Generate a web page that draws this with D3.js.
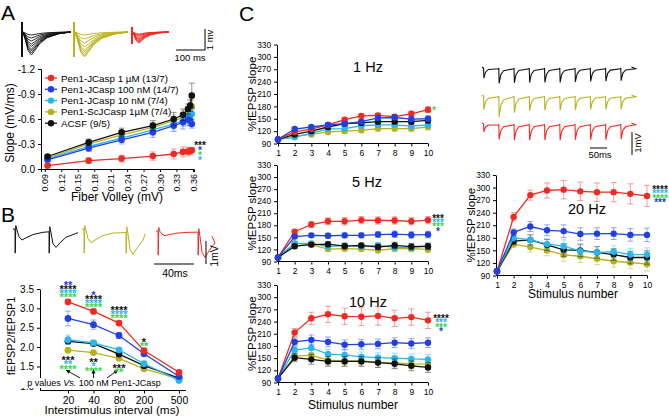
<!DOCTYPE html>
<html><head><meta charset="utf-8">
<script src="https://cdn.jsdelivr.net/npm/d3@7"></script>
<style>
body{margin:0;background:#fff;}
svg{font-family:"Liberation Sans", Arial, sans-serif;display:block;}
</style></head><body>
<svg id="fig" width="669" height="417"></svg>
<script>
// ================= DATA =================
const groupNames = ["Pen1-JCasp 1 µM (13/7)", "Pen1-JCasp 100 nM (14/7)", "Pen1-JCasp 10 nM (7/4)", "Pen1-ScJCasp 1µM (7/4)", "ACSF (9/5)"];
const groupKeys = ["red", "blue", "cyan", "olive", "black"];

// Panel A: input-output
const fiberVolley = [0.095, 0.170, 0.230, 0.287, 0.325, 0.342, 0.351, 0.355, 0.358];
const ioTicks = [0.09, 0.12, 0.15, 0.18, 0.21, 0.24, 0.27, 0.30, 0.33, 0.36];
const slopeTicks = [0, -0.3, -0.6, -0.9, -1.2];
const ioRed   = [-0.04, -0.10, -0.125, -0.155, -0.18, -0.205, -0.21, -0.215, -0.225];
const ioBlue  = [-0.11, -0.25, -0.35, -0.44, -0.52, -0.56, -0.59, -0.58, -0.54];
const ioCyan  = [-0.12, -0.27, -0.37, -0.47, -0.54, -0.58, -0.62, -0.64, -0.66];
const ioOlive = [-0.13, -0.30, -0.41, -0.50, -0.58, -0.62, -0.67, -0.70, -0.75];
const ioBlack = [-0.15, -0.32, -0.44, -0.52, -0.60, -0.65, -0.72, -0.76, -0.88];
const ioRedErr   = [0.01, 0.03, 0.04, 0.05, 0.06, 0.06, 0.05, 0.04, 0.03];
const ioBlueErr  = [0.02, 0.04, 0.05, 0.06, 0.07, 0.08, 0.07, 0.06, 0.05];
const ioCyanErr  = [0.02, 0.04, 0.05, 0.06, 0.07, 0.07, 0.07, 0.07, 0.06];
const ioOliveErr = [0.02, 0.04, 0.05, 0.06, 0.07, 0.08, 0.08, 0.08, 0.07];
const ioBlackErr = [0.02, 0.04, 0.05, 0.06, 0.08, 0.07, 0.06, 0.07, 0.15];

// Panel B: paired-pulse ratio
const intervals = [20, 40, 80, 200, 500];
const pprTicks = [1.0, 1.5, 2.0, 2.5, 3.0, 3.5];
const pprRed   = [3.17, 2.92, 2.62, 1.91, 1.35];
const pprBlue  = [2.74, 2.58, 2.30, 1.83, 1.24];
const pprCyan  = [2.19, 2.11, 1.93, 1.57, 1.14];
const pprOlive = [1.92, 1.86, 1.71, 1.44, 1.18];
const pprBlack = [2.15, 2.09, 1.82, 1.52, 1.20];
const pprRedErr   = [0.06, 0.05, 0.06, 0.05, 0.04];
const pprBlueErr  = [0.19, 0.12, 0.07, 0.05, 0.04];
const pprCyanErr  = [0.12, 0.07, 0.05, 0.04, 0.03];
const pprOliveErr = [0.04, 0.03, 0.03, 0.03, 0.03];
const pprBlackErr = [0.04, 0.05, 0.04, 0.03, 0.03];
// significance stars (above the top curve / below the bottom curve)
const starsAbove = [
  [["**","blue"],["****","black"],["****","cyan"],["****","green"]],
  [["*","blue"],["****","black"],["****","cyan"],["****","green"]],
  [["****","black"],["****","cyan"],["****","green"]],
  [["*","black"],["**","green"]],
  []
];
const starsBelow = [
  [["***","black"],["**","cyan"],["****","green"]],
  [["**","black"],["*","cyan"],["****","green"]],
  [["***","black"],["**","green"]],
  [], []
];

// Panel C: trains
const stimNumbers = [1, 2, 3, 4, 5, 6, 7, 8, 9, 10];
const pctTicks = [90, 120, 150, 180, 210, 240, 270, 300, 330];
const hz1Red   = [100, 118, 125, 135, 148, 157, 158, 155, 162, 172];
const hz1Blue  = [100, 125, 130, 135, 138, 143, 152, 153, 149, 150];
const hz1Cyan  = [100, 105, 115, 125, 126, 133, 135, 135, 132, 135];
const hz1Olive = [100, 108, 112, 118, 120, 122, 126, 126, 126, 130];
const hz1Black = [100, 112, 120, 130, 138, 140, 143, 143, 143, 146];
const hz1Err   = [0, 4, 4, 5, 5, 5, 5, 5, 6, 7];

const hz5Red   = [100, 164, 182, 190, 190, 193, 192, 192, 190, 193];
const hz5Blue  = [100, 152, 155, 154, 155, 155, 157, 158, 156, 157];
const hz5Cyan  = [100, 135, 135, 127, 130, 127, 130, 125, 125, 127];
const hz5Olive = [100, 135, 132, 121, 122, 121, 118, 122, 122, 120];
const hz5Black = [100, 128, 132, 133, 128, 130, 126, 130, 127, 128];
const hz5RedErr = [0, 6, 7, 8, 9, 9, 9, 9, 9, 9];
const hz5Err    = [0, 5, 5, 6, 6, 6, 7, 8, 8, 8];

const hz10Red   = [100, 213, 248, 258, 253, 252, 254, 248, 251, 243];
const hz10Blue  = [100, 190, 195, 190, 183, 184, 185, 188, 186, 188];
const hz10Cyan  = [100, 170, 175, 160, 158, 153, 151, 150, 148, 147];
const hz10Olive = [100, 155, 157, 145, 143, 143, 140, 138, 136, 135];
const hz10Black = [100, 151, 147, 142, 142, 142, 139, 136, 131, 127];
const hz10RedErr = [0, 10, 15, 20, 20, 22, 23, 20, 20, 20];
const hz10Err    = [0, 10, 12, 12, 12, 12, 12, 12, 12, 12];

const hz20Red   = [100, 230, 282, 293, 295, 291, 289, 289, 285, 280];
const hz20Blue  = [100, 193, 207, 198, 196, 189, 190, 190, 187, 187];
const hz20Cyan  = [100, 180, 175, 165, 160, 148, 145, 147, 140, 140];
const hz20Olive = [100, 165, 158, 150, 139, 136, 130, 124, 121, 117];
const hz20Black = [100, 172, 175, 163, 151, 150, 145, 140, 133, 133];
const hz20RedErr = [0, 10, 12, 18, 22, 22, 22, 23, 24, 25];
const hz20Err    = [0, 8, 12, 13, 15, 15, 14, 14, 15, 16];

// representative traces (amplitudes in mV)
const ioAmpBlack = [0.15, 0.3, 0.45, 0.6, 0.72, 0.85, 0.95, 1.05, 1.15];
const ioAmpOlive = [0.15, 0.35, 0.55, 0.75, 0.9, 1.0, 1.1, 1.2, 1.25];
const ioAmpRed   = [0.1, 0.15, 0.2, 0.28, 0.35, 0.4, 0.45, 0.5, 0.55];
const ppAmpBlack = [0.48, 0.8];
const ppAmpOlive = [0.6, 1.1];
const ppAmpRed   = [0.2, 1.15];
const trainBlack = [0.5, 0.75, 0.72, 0.7, 0.7, 0.7, 0.68, 0.66, 0.64, 0.62];
const trainOlive = [0.65, 1.0, 0.8, 0.72, 0.7, 0.7, 0.68, 0.66, 0.66, 0.64];
const trainRed   = [0.4, 0.75, 0.78, 0.78, 0.78, 0.78, 0.76, 0.76, 0.76, 0.74];

// ================= STYLE =================
const COL = {red:"#ee2a22", blue:"#2040e6", cyan:"#27b6ee", olive:"#b9b11c", black:"#111111", green:"#38d64c"};
const svg = d3.select("#fig");

function styleAxis(g, fs) {
  g.selectAll(".domain").attr("stroke", "#000").attr("stroke-width", 1);
  g.selectAll(".tick line").attr("stroke", "#000");
  g.selectAll(".tick text").attr("font-size", fs).attr("fill", "#000");
}

function drawSeries(g, x, xs, y, series, r) {
  series.forEach(s => {
    const col = COL[s.key];
    const eb = g.append("g").attr("stroke", col).attr("stroke-opacity", 0.45).attr("stroke-width", 1);
    s.vals.forEach((v, i) => {
      const e = s.err[i]; if (!e) return;
      const cx = x(xs[i]), y1 = y(v - e), y2 = y(v + e);
      eb.append("line").attr("x1", cx).attr("x2", cx).attr("y1", y1).attr("y2", y2);
      eb.append("line").attr("x1", cx - 3).attr("x2", cx + 3).attr("y1", y1).attr("y2", y1);
      eb.append("line").attr("x1", cx - 3).attr("x2", cx + 3).attr("y1", y2).attr("y2", y2);
    });
    g.append("path").datum(s.vals)
      .attr("d", d3.line().x((d, i) => x(xs[i])).y(d => y(d)))
      .attr("fill", "none").attr("stroke", col).attr("stroke-width", 1.3);
    g.append("g").selectAll("circle").data(s.vals).join("circle")
      .attr("cx", (d, i) => x(xs[i])).attr("cy", d => y(d)).attr("r", r).attr("fill", col);
  });
}

function starText(g, x, yCenter, str, col, fs) {
  g.append("text").attr("x", x).attr("y", yCenter + fs * 0.55).attr("text-anchor", "middle")
    .attr("font-size", fs).attr("font-weight", "bold").attr("fill", COL[col]).text(str);
}

function letter(t, x, y) {
  svg.append("text").attr("x", x).attr("y", y).attr("font-size", 21).text(t);
}

// ================= PANEL A =================
letter("A", 1, 20);
{
  // traces
  const tr = svg.append("g");
  const shape = [[0,0,0],[3,0,0],[3.4,0.4,0],[4.2,-1,0],[5,0,0],[8,0,-0.05],[14,0,-0.3],[24,0,-0.8],[36,0,-1],[48,0,-0.8],[65,0,-0.5],[90,0,-0.25],[130,0,-0.08],[172,0,0]];
  const groups = [
    {amps: ioAmpBlack, col: "black", x0: 21, pxms: 0.29, art: 1.25},
    {amps: ioAmpOlive, col: "olive", x0: 73, pxms: 0.32, art: 1.25},
    {amps: ioAmpRed,   col: "red",   x0: 131, pxms: 0.22, art: 0.6}
  ];
  groups.forEach(gr => {
    const lx = t => gr.x0 + t * gr.pxms;
    const ly = v => 32 - v * 20;
    gr.amps.forEach(a => {
      tr.append("path").datum(shape)
        .attr("d", d3.line().x(p => lx(p[0])).y(p => ly(p[1] * gr.art + p[2] * a)))
        .attr("fill", "none").attr("stroke", COL[gr.col]).attr("stroke-width", 0.9);
    });
  });
  tr.append("path").attr("d", "M205,29V50H176").attr("fill", "none").attr("stroke", "#000");
  tr.append("text").attr("transform", "translate(213,40) rotate(-90)").attr("text-anchor", "middle").attr("font-size", 9.5).text("1 mv");
  tr.append("text").attr("x", 190).attr("y", 61).attr("text-anchor", "middle").attr("font-size", 9.5).text("100 ms");

  const x = d3.scaleLinear().domain([0.083, 0.362]).range([41, 194]);
  const y = d3.scaleLinear().domain([0, -1.2]).range([169, 69]);
  const g = svg.append("g");
  const ya = g.append("g").attr("transform", "translate(41,0)")
    .call(d3.axisLeft(y).tickValues(slopeTicks).tickSize(3).tickFormat(v => v.toFixed(1)));
  styleAxis(ya, 10);
  const xa = g.append("g").attr("transform", "translate(0,169)")
    .call(d3.axisBottom(x).tickValues(ioTicks).tickSize(3).tickFormat(v => v.toFixed(2)));
  styleAxis(xa, 9);
  xa.selectAll(".tick text").attr("transform", "rotate(-90)").attr("text-anchor", "end")
    .attr("x", -5).attr("y", 0).attr("dy", "0.35em");
  g.append("text").attr("x", 117).attr("y", 201).attr("text-anchor", "middle").attr("font-size", 12).text("Fiber Volley (mV)");
  g.append("text").attr("transform", "translate(14,123) rotate(-90)").attr("text-anchor", "middle").attr("font-size", 12).text("Slope (mV/ms)");

  drawSeries(g, x, fiberVolley, y, [
    {key: "olive", vals: ioOlive, err: ioOliveErr},
    {key: "cyan", vals: ioCyan, err: ioCyanErr},
    {key: "blue", vals: ioBlue, err: ioBlueErr},
    {key: "black", vals: ioBlack, err: ioBlackErr},
    {key: "red", vals: ioRed, err: ioRedErr}
  ], 3.3);

  // legend
  const lg = g.append("g");
  groupNames.forEach((n, i) => {
    const yy = 78 + i * 11.3;
    lg.append("line").attr("x1", 45).attr("x2", 57).attr("y1", yy).attr("y2", yy).attr("stroke", COL[groupKeys[i]]).attr("stroke-width", 1.3);
    lg.append("circle").attr("cx", 51).attr("cy", yy).attr("r", 3.2).attr("fill", COL[groupKeys[i]]);
    lg.append("text").attr("x", 61).attr("y", yy + 3.5).attr("font-size", 9.8).text(n);
  });
  // stars
  const sx = 200;
  starText(g, sx, 143, "***", "black", 10);
  starText(g, sx, 148, "*", "blue", 10);
  starText(g, sx, 153, "*", "green", 10);
  starText(g, sx, 158, "*", "cyan", 10);
}

// ================= PANEL B =================
letter("B", 1, 222);
{
  const tr = svg.append("g");
  const groups = [
    {amp: ppAmpBlack, col: "black", x0: 13, isi: 34, base: 229, len: 65},
    {amp: ppAmpOlive, col: "olive", x0: 82, isi: 42, base: 229, len: 63},
    {amp: ppAmpRed,   col: "red",   x0: 156, isi: 40, base: 231, len: 56}
  ];
  groups.forEach(gr => {
    const a1 = gr.amp[0], a2 = gr.amp[1], s2 = gr.isi + 2;
    const pts = [[0,0],[2,0],[2.2,-1.05],[2.8,0.15],[4,-0.1*a1],[6,-0.7*a1],[9,-a1],[13,-0.8*a1],[20,-0.5*a1],[30,-0.3*a1],[s2,-0.25*a1],
      [s2+0.2,-1.05],[s2+0.8,0.1],[s2+2,-0.2*a2],[s2+4,-0.8*a2],[s2+7,-a2],[s2+11,-0.75*a2],[s2+17,-0.45*a2],[gr.len,-0.2*a2]];
    tr.append("path").datum(pts)
      .attr("d", d3.line().x(p => gr.x0 + p[0]).y(p => gr.base - p[1] * 23))
      .attr("fill", "none").attr("stroke", COL[gr.col]).attr("stroke-width", 1);
  });
  tr.append("line").attr("x1", 154).attr("x2", 194).attr("y1", 264).attr("y2", 264).attr("stroke", "#000");
  tr.append("line").attr("x1", 206).attr("x2", 206).attr("y1", 241).attr("y2", 264).attr("stroke", "#000");
  tr.append("text").attr("x", 175).attr("y", 277).attr("text-anchor", "middle").attr("font-size", 10.5).text("40ms");
  tr.append("text").attr("transform", "translate(218,256) rotate(-90)").attr("text-anchor", "middle").attr("font-size", 10.5).text("1mV");

  const x = d3.scaleLinear().domain(intervals).range([68, 93.5, 119, 144, 179]);
  const y = d3.scaleLinear().domain([0.88, 3.5]).range([390.5, 289]);
  const g = svg.append("g");
  const ya = g.append("g").attr("transform", "translate(40,0)")
    .call(d3.axisLeft(y).tickValues(pprTicks).tickSize(3).tickSizeOuter(0).tickFormat(v => v.toFixed(1)));
  styleAxis(ya, 10);
  const xa = g.append("g").attr("transform", "translate(0,390.5)")
    .call(d3.axisBottom(x).tickValues(intervals).tickSize(3).tickSizeOuter(0));
  styleAxis(xa, 10.5);
  xa.select(".domain").remove();
  g.append("line").attr("x1", 40).attr("x2", 186).attr("y1", 390.5).attr("y2", 390.5).attr("stroke", "#000");
  g.append("text").attr("x", 112).attr("y", 414).attr("text-anchor", "middle").attr("font-size", 11.8).text("Interstimulus interval (ms)");
  g.append("text").attr("transform", "translate(15,336) rotate(-90)").attr("text-anchor", "middle").attr("font-size", 10.8).text("fEPSP2/fEPSP1");

  // note
  const nt = g.append("g");
  nt.append("rect").attr("x", 21).attr("y", 378).attr("width", 148).attr("height", 10).attr("fill", "#fff");
  const t = nt.append("text").attr("x", 94).attr("y", 386).attr("text-anchor", "middle").attr("font-size", 9);
  t.append("tspan").text("p values ");
  t.append("tspan").attr("font-style", "italic").text("Vs.");
  t.append("tspan").text(" 100 nM Pen1-JCasp");
  // arrows
  const ar = g.append("g").attr("stroke", "#000").attr("fill", "#000");
  const arrowPairs = [[80, 378, x(20) - 2, 370], [x(40), 378, x(40), 369.5], [107, 378, x(80) - 1, 370]];
  arrowPairs.forEach(([x1, y1, x2, y2]) => {
    ar.append("line").attr("x1", x1).attr("y1", y1).attr("x2", x2).attr("y2", y2).attr("stroke-width", 0.9);
    const ang = Math.atan2(y2 - y1, x2 - x1);
    const L = 4, W = 2;
    const bx = x2 - L * Math.cos(ang), by = y2 - L * Math.sin(ang);
    ar.append("path").attr("stroke", "none")
      .attr("d", `M${x2},${y2}L${bx + W * Math.sin(ang)},${by - W * Math.cos(ang)}L${bx - W * Math.sin(ang)},${by + W * Math.cos(ang)}Z`);
  });

  drawSeries(g, x, intervals, y, [
    {key: "olive", vals: pprOlive, err: pprOliveErr},
    {key: "black", vals: pprBlack, err: pprBlackErr},
    {key: "cyan", vals: pprCyan, err: pprCyanErr},
    {key: "blue", vals: pprBlue, err: pprBlueErr},
    {key: "red", vals: pprRed, err: pprRedErr}
  ], 3.4);

  intervals.forEach((c, i) => {
    const above = starsAbove[i];
    const topY = y(pprRed[i] + pprRedErr[i]) - 5;
    above.forEach((s, k) => {
      starText(g, x(c), topY - (above.length - 1 - k) * 3.7, s[0], s[1], 11);
    });
    const below = starsBelow[i];
    const botY = y(pprOlive[i] - pprOliveErr[i]) + 6;
    below.forEach((s, k) => {
      starText(g, x(c), botY + k * 4.6, s[0], s[1], 11);
    });
  });
}

// ================= PANEL C =================
svg.append("text").attr("x", 239).attr("y", 21).attr("font-size", 21).text("C");
{
  const panels = [
    {title: "1 Hz", xr: [278, 428], yr: [143.5, 44.5], tx: 368, ty: 72, data: [
      {key: "olive", vals: hz1Olive, err: hz1Err}, {key: "cyan", vals: hz1Cyan, err: hz1Err},
      {key: "black", vals: hz1Black, err: hz1Err}, {key: "red", vals: hz1Red, err: hz1Err},
      {key: "blue", vals: hz1Blue, err: hz1Err}],
      stars: [["*", "green"]], sx: 434, sy: 108, xlabel: false},
    {title: "5 Hz", xr: [278, 428], yr: [261.5, 165], tx: 367, ty: 187, data: [
      {key: "olive", vals: hz5Olive, err: hz5Err}, {key: "cyan", vals: hz5Cyan, err: hz5Err},
      {key: "black", vals: hz5Black, err: hz5Err}, {key: "red", vals: hz5Red, err: hz5RedErr},
      {key: "blue", vals: hz5Blue, err: hz5Err}],
      stars: [["***", "black"], ["***", "cyan"], ["***", "green"], ["*", "blue"]], sx: 438, sy: 216, xlabel: false},
    {title: "10 Hz", xr: [278, 428], yr: [382.5, 285], tx: 368, ty: 307, data: [
      {key: "olive", vals: hz10Olive, err: hz10Err}, {key: "cyan", vals: hz10Cyan, err: hz10Err},
      {key: "black", vals: hz10Black, err: hz10Err}, {key: "red", vals: hz10Red, err: hz10RedErr},
      {key: "blue", vals: hz10Blue, err: hz10Err}],
      stars: [["****", "black"], ["***", "cyan"], ["***", "green"], ["*", "blue"]], sx: 441, sy: 316.5, xlabel: true, lx: 353, ly: 409},
    {title: "20 Hz", xr: [497, 647], yr: [275.5, 175], tx: 587, ty: 214, data: [
      {key: "olive", vals: hz20Olive, err: hz20Err}, {key: "black", vals: hz20Black, err: hz20Err},
      {key: "cyan", vals: hz20Cyan, err: hz20Err}, {key: "red", vals: hz20Red, err: hz20RedErr},
      {key: "blue", vals: hz20Blue, err: hz20Err}],
      stars: [["****", "black"], ["****", "cyan"], ["****", "green"], ["***", "blue"]], sx: 660, sy: 187.5, xlabel: true, lx: 573, ly: 298}
  ];
  panels.forEach(p => {
    const x = d3.scaleLinear().domain([1, 10]).range(p.xr);
    const y = d3.scaleLinear().domain([90, 330]).range(p.yr);
    const g = svg.append("g");
    const ya = g.append("g").attr("transform", `translate(${p.xr[0] - 1},0)`)
      .call(d3.axisLeft(y).tickValues(pctTicks).tickSize(3).tickSizeOuter(0));
    styleAxis(ya, 8.3);
    const xa = g.append("g").attr("transform", `translate(0,${p.yr[0]})`)
      .call(d3.axisBottom(x).tickValues(stimNumbers).tickSize(3).tickSizeOuter(0));
    styleAxis(xa, 8.5);
    xa.select(".domain").remove();
    g.append("line").attr("x1", p.xr[0] - 1).attr("x2", p.xr[1]).attr("y1", p.yr[0]).attr("y2", p.yr[0]).attr("stroke", "#000");
    g.append("text").attr("transform", `translate(${p.xr[0] - 22},${(p.yr[0] + p.yr[1]) / 2}) rotate(-90)`)
      .attr("text-anchor", "middle").attr("font-size", 11.5).text("%fEPSP slope");
    g.append("text").attr("x", p.tx).attr("y", p.ty).attr("text-anchor", "middle").attr("font-size", 14.5).text(p.title);
    if (p.xlabel) g.append("text").attr("x", p.lx).attr("y", p.ly).attr("text-anchor", "middle").attr("font-size", 12).text("Stimulus number");
    drawSeries(g, x, stimNumbers, y, p.data, 3.2);
    p.stars.forEach((s, k) => starText(g, p.sx, p.sy + k * 4.4, s[0], s[1], 10));
  });

  // train traces
  const tr = svg.append("g");
  const traces = [
    {amps: trainBlack, col: "black", base: 67},
    {amps: trainOlive, col: "olive", base: 95},
    {amps: trainRed,   col: "red",   base: 123}
  ];
  traces.forEach(trc => {
    const pts = [[0, 0]];
    trc.amps.forEach((a, i) => {
      const t0 = 5 + i * 50;
      pts.push([t0, -0.05], [t0 + 1.2, -a], [t0 + 3, -0.8 * a], [t0 + 7, -0.45 * a], [t0 + 16, -0.22 * a], [t0 + 49, -0.08]);
    });
    pts.push([490, 0]);
    tr.append("path").datum(pts)
      .attr("d", d3.line().x(p => 482 + p[0] * 0.305).y(p => trc.base - p[1] * 22))
      .attr("fill", "none").attr("stroke", COL[trc.col]).attr("stroke-width", 1.1);
  });
  tr.append("line").attr("x1", 590).attr("x2", 607).attr("y1", 148).attr("y2", 148).attr("stroke", "#000");
  tr.append("line").attr("x1", 632).attr("x2", 632).attr("y1", 132).attr("y2", 155).attr("stroke", "#000");
  tr.append("text").attr("x", 600).attr("y", 158).attr("text-anchor", "middle").attr("font-size", 9.5).text("50ms");
  tr.append("text").attr("transform", "translate(641,143) rotate(-90)").attr("text-anchor", "middle").attr("font-size", 9.5).text("1mV");
}
</script>
</body></html>
